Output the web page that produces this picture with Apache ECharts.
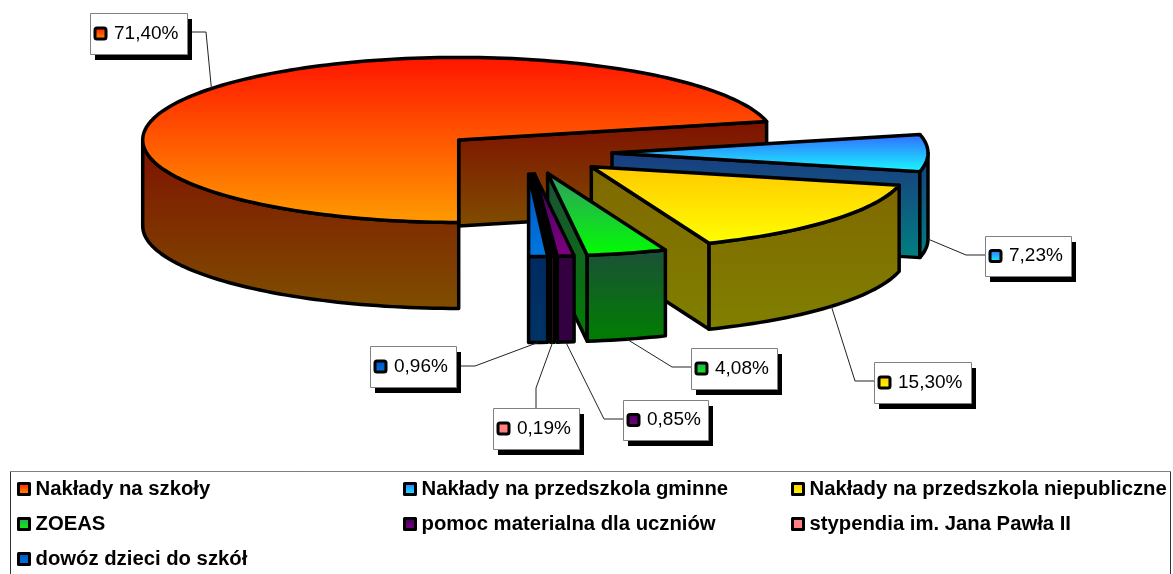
<!DOCTYPE html>
<html><head><meta charset="utf-8">
<style>html,body{margin:0;padding:0;background:#fff}#c{width:1173px;height:574px}</style>
<script src="https://cdn.jsdelivr.net/npm/echarts@6/dist/echarts.min.js"></script>
</head><body><div id="c"></div>
<script>
// ---- data ----
const categories = ['Nakłady na szkoły','Nakłady na przedszkola gminne','Nakłady na przedszkola niepubliczne','ZOEAS','pomoc materialna dla uczniów','stypendia im. Jana Pawła II','dowóz dzieci do szkół'];
const shares = [71.40, 7.23, 15.30, 4.08, 0.85, 0.19, 0.96];
// ---- colours: [top from, top to, wall from, wall to] ----
const palette = [
  ['#ff1400','#ff9c00','#7f1000','#7f4e00'],
  ['#3366ff','#19ffff','#1a3a80','#008080'],
  ['#ffc800','#ffff00','#806800','#808000'],
  ['#339966','#00ff00','#1c4f38','#008000'],
  ['#400060','#800080','#330040','#330040'],
  ['#ff8080','#ff8080','#804040','#804040'],
  ['#0050c0','#0078e0','#002a60','#003366']
];
// ---- geometry of the projected pie ----
const pie = {cx:526, cy:153, rx:316, ry:82.5, depth:86, blowX:86, blowY:21, startDeg:180};
// ---- label boxes: [left, top, width, height, elbowX, elbowY] ----
const labelBoxes = [
  [90,13,97,41,206,32],
  [985,236,86,40,966,255],
  [874,362,97,41,855,381],
  [691,348,86,41,672,367],
  [623,400,85,40,604,419],
  [493,408,86,41,536,388],
  [370,346,86,41,475,366]
];
const total = shares.reduce((a,b)=>a+b,0);
const spans = []; { let s = pie.startDeg; shares.forEach(v=>{const e=s+v/total*360; if(s>=360) spans.push([s-360,e-360]); else spans.push([s,e]); s=e;}); }
const rad = d=>d*Math.PI/180;
const grad = (a,b)=>new echarts.graphic.LinearGradient(0,0,0,1,[{offset:0,color:a},{offset:1,color:b}]);
const fmt = v=>v.toFixed(2).replace('.',',')+'%';

function renderSlice(i){
  const [a,b]=spans[i], mid=(a+b)/2, col=palette[i];
  const ox=pie.cx+pie.blowX*Math.sin(rad(mid)), oy=pie.cy-pie.blowY*Math.cos(rad(mid));
  const P=(d,h)=>[ox+pie.rx*Math.sin(rad(d)), oy-pie.ry*Math.cos(rad(d))+(h||0)];
  const arc=(s,e,h)=>{const n=Math.max(2,Math.ceil((e-s)/1.5)),r=[];for(let k=0;k<=n;k++)r.push(P(s+(e-s)*k/n,h));return r;};
  const lineStyle={stroke:'#000',lineWidth:3.5,lineJoin:'round'};
  const kids=[];
  const poly=(pts,f)=>kids.push({type:'polygon',shape:{points:pts},style:Object.assign({fill:f},lineStyle)});
  // radial wall on the clockwise end
  if(Math.sin(rad(b))>0.001){
    poly([[ox,oy],P(b),P(b,pie.depth),[ox,oy+pie.depth]],grad(col[2],col[3]));
  }
  // outer rim facing the viewer
  const rs=Math.max(a,90), re=Math.min(b,270);
  if(re>rs){
    poly(arc(rs,re,0).concat(arc(rs,re,pie.depth).reverse()),grad(col[2],col[3]));
  }
  // top
  poly([[ox,oy]].concat(arc(a,b,0)),grad(col[0],col[1]));
  // leader + box
  const L=labelBoxes[i];
  const front=Math.cos(rad(mid))<0;
  const anchor=P(mid,front?pie.depth:0);
  const bx=L[0], by=L[1], bw=L[2], bh=L[3];
  const boxEdgeX = L[4]>bx+bw ? bx+bw : (L[4]<bx ? bx : L[4]);
  const boxEdgeY = (L[4]>=bx && L[4]<=bx+bw) ? by : L[5];
  kids.push({type:'polyline',shape:{points:[anchor,[L[4],L[5]],[boxEdgeX,boxEdgeY]]},style:{fill:null,stroke:'#222',lineWidth:1},z2:5});
  kids.push({type:'rect',shape:{x:bx+5,y:by+6,width:bw,height:bh},style:{fill:'#000'},z2:6});
  kids.push({type:'rect',shape:{x:bx+.5,y:by+.5,width:bw,height:bh},style:{fill:'#fff',stroke:'#808080',lineWidth:1},z2:7});
  kids.push({type:'rect',shape:{x:bx+5,y:by+bh/2-5.5,width:11,height:11,r:2},style:{fill:grad(col[0],col[1]),stroke:'#000',lineWidth:3},z2:8});
  kids.push({type:'text',style:{x:bx+24,y:by+bh/2,text:fmt(shares[i]),fill:'#000',font:'19px "Liberation Sans"',textAlign:'left',textVerticalAlign:'middle'},z2:8});
  return {type:'group',children:kids};
}

const series = categories.map((name,i)=>({
  type:'custom', name, coordinateSystem:'none', data:[[shares[i]]],
  itemStyle:{color:grad(palette[i][0],palette[i][1])},
  renderItem:()=>renderSlice(i), silent:true, animation:false
}));

const legendBase = {orient:'vertical',selectedMode:false,itemWidth:11,itemHeight:11,itemGap:15,padding:0,icon:'rect',
  itemStyle:{borderColor:'#000',borderWidth:3,borderJoin:'round'},
  textStyle:{fontFamily:'Liberation Sans',fontWeight:'bold',fontSize:20.3,color:'#000',lineHeight:18,padding:[0,0,0,1]}};
const legendCols = [[0,3,6],[1,4],[2,5]];
const legendLefts = [17,403,791];

const chart = echarts.init(document.getElementById('c'),null,{renderer:'canvas'});
chart.setOption({
  animation:false, backgroundColor:'#fff',
  legend: legendCols.map((col,k)=>Object.assign({},legendBase,{left:legendLefts[k],top:479,data:col.map(i=>categories[i])})),
  graphic:[
    {type:'rect',z:-1,shape:{x:10.5,y:471.5,width:1160,height:110},style:{fill:'#fff',stroke:'#333',lineWidth:1}},
    {type:'line',z:-1,shape:{x1:10,y1:471.5,x2:1171,y2:471.5},style:{stroke:'#808080',lineWidth:1}}
  ],
  series
});
</script></body></html>
